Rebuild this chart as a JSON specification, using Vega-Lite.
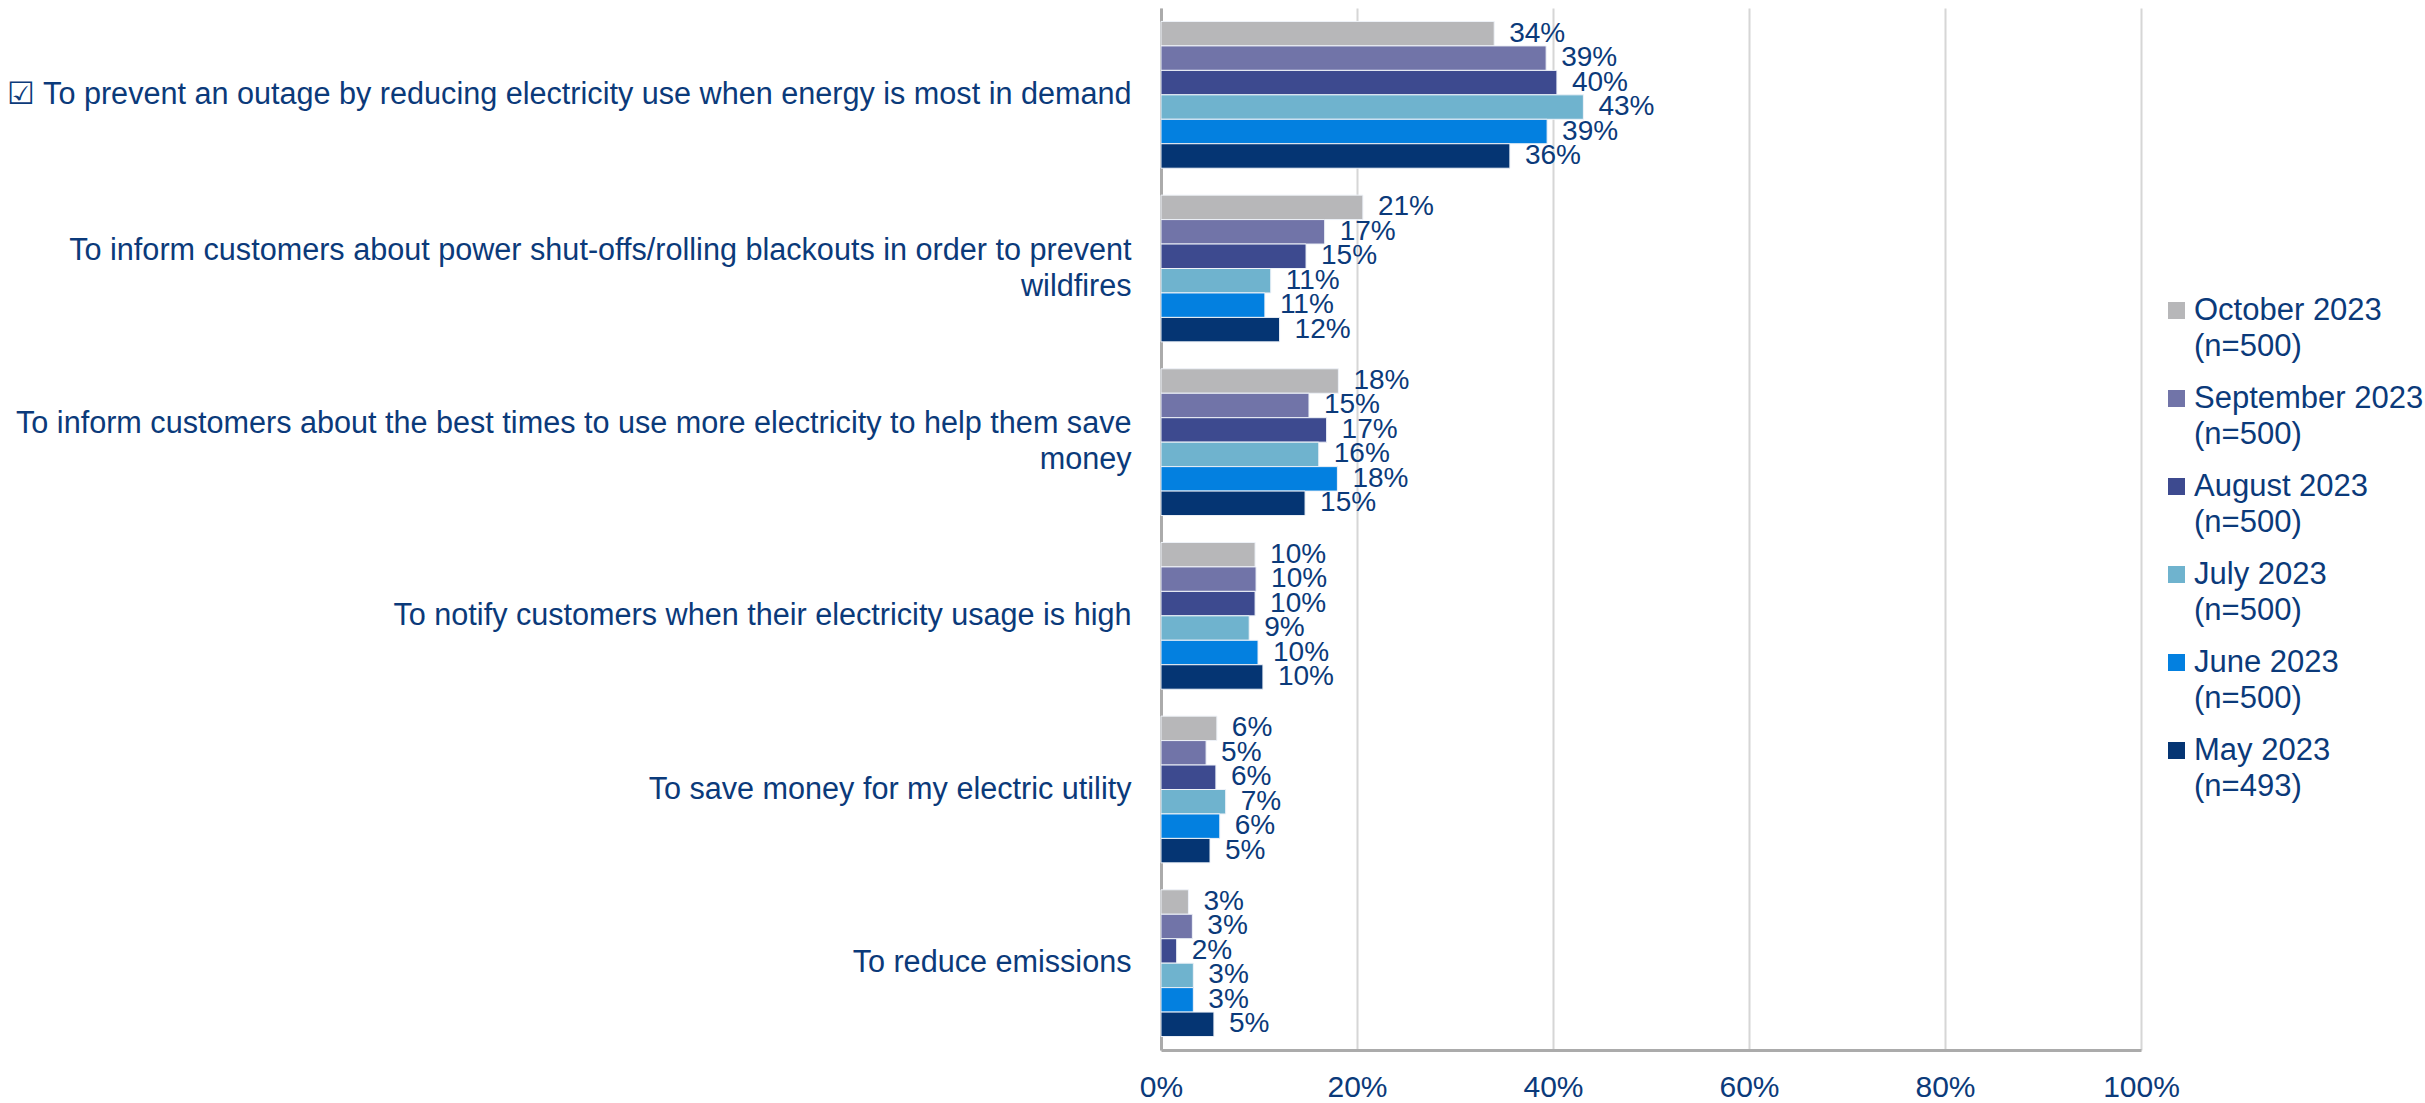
{
  "$schema": "https://vega.github.io/schema/vega-lite/v6.json",
  "width": 980,
  "height": 1042,
  "autosize": {"type": "none"},
  "padding": {"left": 1161, "top": 8, "right": 284, "bottom": 53},
  "background": "white",
  "config": {"view": {"stroke": null}, "font": "Liberation Sans", "style": {"guide-label": {"lineHeight": 36}}},
  "data": {"values": [
    {"reason": "☑ To prevent an outage by reducing electricity use when energy is most in demand", "wave": "October 2023|(n=500)", "share": 0.340},
    {"reason": "☑ To prevent an outage by reducing electricity use when energy is most in demand", "wave": "September 2023|(n=500)", "share": 0.393},
    {"reason": "☑ To prevent an outage by reducing electricity use when energy is most in demand", "wave": "August 2023|(n=500)", "share": 0.404},
    {"reason": "☑ To prevent an outage by reducing electricity use when energy is most in demand", "wave": "July 2023|(n=500)", "share": 0.431},
    {"reason": "☑ To prevent an outage by reducing electricity use when energy is most in demand", "wave": "June 2023|(n=500)", "share": 0.394},
    {"reason": "☑ To prevent an outage by reducing electricity use when energy is most in demand", "wave": "May 2023|(n=493)", "share": 0.356},
    {"reason": "To inform customers about power shut-offs/rolling blackouts in order to prevent|wildfires", "wave": "October 2023|(n=500)", "share": 0.206},
    {"reason": "To inform customers about power shut-offs/rolling blackouts in order to prevent|wildfires", "wave": "September 2023|(n=500)", "share": 0.167},
    {"reason": "To inform customers about power shut-offs/rolling blackouts in order to prevent|wildfires", "wave": "August 2023|(n=500)", "share": 0.148},
    {"reason": "To inform customers about power shut-offs/rolling blackouts in order to prevent|wildfires", "wave": "July 2023|(n=500)", "share": 0.112},
    {"reason": "To inform customers about power shut-offs/rolling blackouts in order to prevent|wildfires", "wave": "June 2023|(n=500)", "share": 0.106},
    {"reason": "To inform customers about power shut-offs/rolling blackouts in order to prevent|wildfires", "wave": "May 2023|(n=493)", "share": 0.121},
    {"reason": "To inform customers about the best times to use more electricity to help them save|money", "wave": "October 2023|(n=500)", "share": 0.181},
    {"reason": "To inform customers about the best times to use more electricity to help them save|money", "wave": "September 2023|(n=500)", "share": 0.151},
    {"reason": "To inform customers about the best times to use more electricity to help them save|money", "wave": "August 2023|(n=500)", "share": 0.169},
    {"reason": "To inform customers about the best times to use more electricity to help them save|money", "wave": "July 2023|(n=500)", "share": 0.161},
    {"reason": "To inform customers about the best times to use more electricity to help them save|money", "wave": "June 2023|(n=500)", "share": 0.180},
    {"reason": "To inform customers about the best times to use more electricity to help them save|money", "wave": "May 2023|(n=493)", "share": 0.147},
    {"reason": "To notify customers when their electricity usage is high", "wave": "October 2023|(n=500)", "share": 0.096},
    {"reason": "To notify customers when their electricity usage is high", "wave": "September 2023|(n=500)", "share": 0.097},
    {"reason": "To notify customers when their electricity usage is high", "wave": "August 2023|(n=500)", "share": 0.096},
    {"reason": "To notify customers when their electricity usage is high", "wave": "July 2023|(n=500)", "share": 0.090},
    {"reason": "To notify customers when their electricity usage is high", "wave": "June 2023|(n=500)", "share": 0.099},
    {"reason": "To notify customers when their electricity usage is high", "wave": "May 2023|(n=493)", "share": 0.104},
    {"reason": "To save money for my electric utility", "wave": "October 2023|(n=500)", "share": 0.057},
    {"reason": "To save money for my electric utility", "wave": "September 2023|(n=500)", "share": 0.046},
    {"reason": "To save money for my electric utility", "wave": "August 2023|(n=500)", "share": 0.056},
    {"reason": "To save money for my electric utility", "wave": "July 2023|(n=500)", "share": 0.066},
    {"reason": "To save money for my electric utility", "wave": "June 2023|(n=500)", "share": 0.060},
    {"reason": "To save money for my electric utility", "wave": "May 2023|(n=493)", "share": 0.050},
    {"reason": "To reduce emissions", "wave": "October 2023|(n=500)", "share": 0.028},
    {"reason": "To reduce emissions", "wave": "September 2023|(n=500)", "share": 0.032},
    {"reason": "To reduce emissions", "wave": "August 2023|(n=500)", "share": 0.016},
    {"reason": "To reduce emissions", "wave": "July 2023|(n=500)", "share": 0.033},
    {"reason": "To reduce emissions", "wave": "June 2023|(n=500)", "share": 0.033},
    {"reason": "To reduce emissions", "wave": "May 2023|(n=493)", "share": 0.054}
  ]},
  "encoding": {
    "y": {
      "field": "reason", "type": "nominal", "sort": null,
      "scale": {"paddingInner": 0.155, "paddingOuter": 0.0775},
      "axis": {
        "title": null, "ticks": false, "grid": false,
        "domain": true, "domainColor": "#ABABAB", "domainWidth": 3,
        "labelExpr": "split(datum.label, '|')",
        "labelFont": "Liberation Sans", "labelFontSize": 30.6,
        "labelColor": "#0B3A7A", "labelPadding": 30, "labelLimit": 1200,
        "labelLineHeight": 36, "labelAlign": "right",
        "labelBaseline": {"condition": {"test": "indexof(datum.label, '|') >= 0", "value": "line-bottom"}, "value": "middle"}
      }
    },
    "yOffset": {
      "field": "wave", "type": "nominal",
      "sort": ["October 2023|(n=500)", "September 2023|(n=500)", "August 2023|(n=500)", "July 2023|(n=500)", "June 2023|(n=500)", "May 2023|(n=493)"],
      "scale": {"paddingInner": 0, "paddingOuter": 0}
    },
    "x": {
      "field": "share", "type": "quantitative",
      "scale": {"domain": [0, 1], "nice": false},
      "axis": {
        "title": null, "values": [0, 0.2, 0.4, 0.6, 0.8, 1], "format": ".0%",
        "ticks": false, "grid": true, "gridColor": "#D6D6D6", "gridWidth": 2,
        "domain": true, "domainColor": "#ABABAB", "domainWidth": 3,
        "labelFont": "Liberation Sans", "labelFontSize": 30, "labelFlush": false,
        "labelColor": "#0B3A7A", "labelPadding": 22
      }
    }
  },
  "layer": [
    {
      "mark": {"type": "bar", "stroke": "#EEF2F8", "strokeWidth": 1},
      "encoding": {
        "color": {
          "field": "wave", "type": "nominal",
          "scale": {
            "domain": ["October 2023|(n=500)", "September 2023|(n=500)", "August 2023|(n=500)", "July 2023|(n=500)", "June 2023|(n=500)", "May 2023|(n=493)"],
            "range": ["#B7B7B9", "#7174A8", "#3D4A8F", "#6FB3CE", "#0380E0", "#053573"]
          },
          "legend": {
            "title": null, "orient": "none", "legendX": 1000, "legendY": 287,
            "symbolType": "square", "symbolSize": 289, "symbolStrokeWidth": 0,
            "labelExpr": "split(datum.label, '|')",
            "labelFont": "Liberation Sans", "labelFontSize": 31, "labelColor": "#0B3A7A",
            "labelLimit": 400, "labelOffset": 2, "rowPadding": 20, "padding": 0,
            "labelBaseline": "middle"
          }
        }
      }
    },
    {
      "mark": {"type": "text", "align": "left", "baseline": "middle", "dx": 15, "fontSize": 28, "font": "Liberation Sans", "color": "#0B3A7A"},
      "encoding": {"text": {"field": "share", "type": "quantitative", "format": ".0%"}}
    }
  ]
}
